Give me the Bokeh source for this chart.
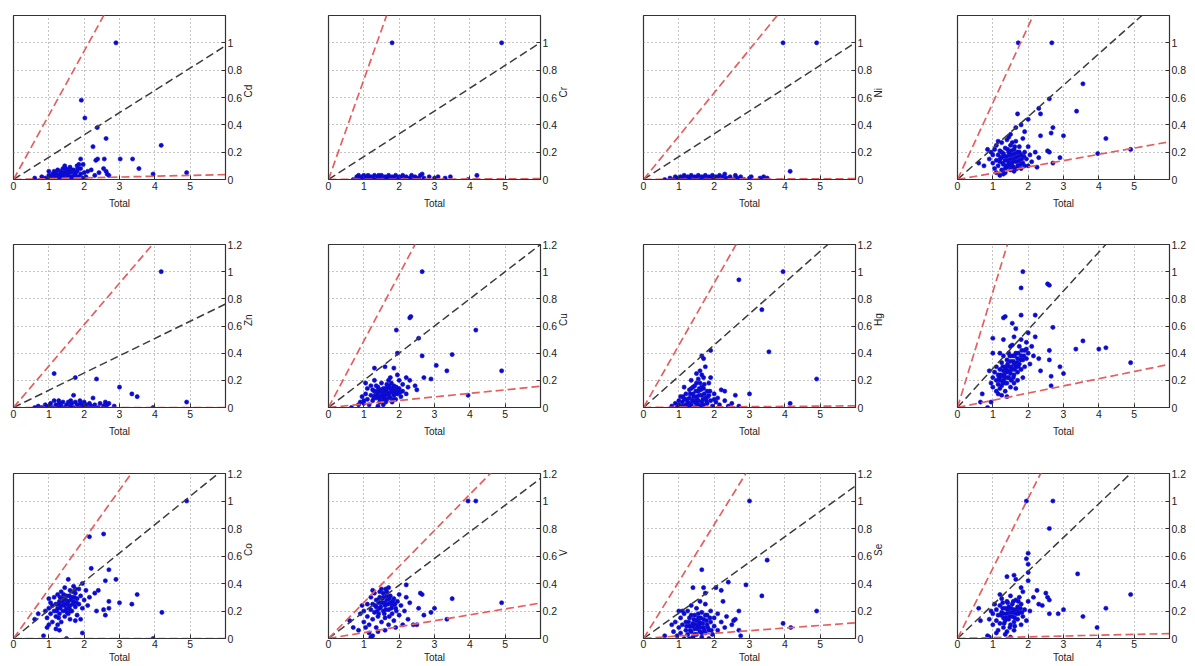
import math
from bokeh.plotting import figure
from bokeh.layouts import column, row
from bokeh.models import FixedTicker, Range1d
from bokeh.embed import file_html
from bokeh.resources import INLINE

# ---------------- data ----------------
panel_labels = ["Cd", "Cr", "Ni", "", "Zn", "Cu", "Hg", "", "Co", "V", "Se", ""]

x_ticks = [0, 1, 2, 3, 4, 5]
x_tick_labels = ["0", "1", "2", "3", "4", "5"]
y_ticks = [0, 0.2, 0.4, 0.6, 0.8, 1.0, 1.2]
y_tick_labels = ["0", "0.2", "0.4", "0.6", "0.8", "1", "1.2"]

# slopes of the reference lines: black (middle), red upper, red lower
black_slope = [0.163, 0.167, 0.167, 0.23, 0.127, 0.2, 0.23, 0.286, 0.207, 0.194, 0.185, 0.245]
red_hi_slope = [0.47, 0.73, 0.317, 0.56, 0.305, 0.49, 0.458, 0.85, 0.36, 0.262, 0.414, 0.51]
red_lo_slope = [0.006, 0.001, 0.001, 0.046, 0.0, 0.026, 0.002, 0.053, 0.0, 0.043, 0.019, 0.006]

cd_pts = [(2.9,1.0),(1.92,0.58),(2.02,0.45),(2.37,0.38),(2.62,0.3),(2.25,0.24),(4.18,0.25),(2.33,0.14),
 (2.38,0.15),(2.57,0.15),(3.02,0.15),(3.37,0.15),(1.9,0.15),(1.97,0.11),(3.55,0.08),(2.55,0.08),(2.62,0.06),
 (2.65,0.04),(2.7,0.03),(3.95,0.04),(4.9,0.05),(2.42,0.05),(2.2,0.07),(2.1,0.06),(2.3,0.03),(2.05,0.02),
 (0.6,0.01),(0.8,0.02),(0.9,0.01),(1.0,0.03),(1.0,0.06),(1.05,0.01),(1.1,0.04),(1.15,0.02),(1.2,0.05),(1.2,0.01),
 (1.25,0.07),(1.3,0.03),(1.3,0.0),(1.35,0.05),(1.4,0.02),(1.4,0.08),(1.45,0.04),(1.5,0.01),(1.5,0.06),(1.55,0.03),
 (1.6,0.09),(1.6,0.05),(1.65,0.02),(1.7,0.07),(1.7,0.01),(1.75,0.04),(1.8,0.1),(1.8,0.06),(1.85,0.02),(1.9,0.08),
 (1.9,0.04),(1.95,0.01),(2.0,0.05),(1.15,0.06),(1.35,0.01),(1.55,0.07),(1.75,0.0),(1.25,0.03),(1.45,0.1),
 (1.65,0.06),(1.85,0.11),(0.95,0.0),(1.1,0.0),
 (1.12,0.03),(1.22,0.03),(1.32,0.06),(1.42,0.05),(1.52,0.04),(1.62,0.07),(1.72,0.04),(1.82,0.08),(1.38,0.03),
 (1.58,0.01),(1.78,0.02),(1.48,0.08)]

cr_pts = [(1.8,1.0),(4.9,1.0),(0.7,0.0),(0.8,0.02),(0.85,0.03),(0.9,0.01),(0.95,0.02),(1.0,0.0),(1.0,0.03),
 (1.05,0.01),(1.1,0.02),(1.15,0.0),(1.2,0.02),(1.25,0.01),(1.3,0.03),(1.35,0.0),(1.4,0.02),(1.45,0.01),(1.5,0.03),
 (1.55,0.0),(1.6,0.02),(1.65,0.01),(1.7,0.03),(1.75,0.0),(1.8,0.02),(1.85,0.01),(1.9,0.03),(1.95,0.0),(2.0,0.02),
 (2.05,0.01),(2.1,0.03),(2.15,0.0),(2.2,0.02),(2.3,0.01),(2.35,0.03),(2.4,0.0),(2.45,0.02),(2.55,0.01),(2.6,0.03),
 (2.65,0.04),(2.7,0.01),(2.85,0.02),(3.0,0.01),(3.1,0.02),(3.3,0.01),(3.45,0.02),(3.95,0.0),(4.2,0.03),
 (1.12,0.03),(1.42,0.03),(1.72,0.01),(2.25,0.0)]

ni_pts = [(3.95,1.0),(4.9,1.0),(4.15,0.06),(0.6,0.0),(0.75,0.01),(0.85,0.0),(0.9,0.02),(0.95,0.01),(1.0,0.0),
 (1.05,0.02),(1.1,0.01),(1.15,0.03),(1.2,0.0),(1.25,0.02),(1.3,0.01),(1.35,0.03),(1.4,0.0),(1.45,0.02),(1.5,0.01),
 (1.55,0.03),(1.6,0.0),(1.65,0.02),(1.7,0.01),(1.75,0.03),(1.8,0.0),(1.85,0.02),(1.9,0.01),(1.95,0.03),(2.0,0.0),
 (2.05,0.02),(2.1,0.01),(2.15,0.03),(2.2,0.0),(2.25,0.02),(2.3,0.04),(2.35,0.01),(2.45,0.02),(2.55,0.0),(2.6,0.03),
 (2.65,0.01),(2.75,0.02),(2.85,0.0),(3.0,0.01),(3.05,0.02),(3.3,0.01),(3.4,0.02),(3.5,0.01)]

p4_pts = [(1.72,1.0),(2.67,1.0),(3.55,0.7),(2.6,0.59),(3.37,0.5),(2.3,0.52),(1.7,0.48),(2.35,0.48),(2.0,0.44),
 (1.8,0.4),(2.7,0.38),(2.65,0.34),(3.0,0.32),(4.2,0.3),(2.35,0.32),(1.5,0.33),(4.9,0.22),(3.97,0.19),(2.9,0.16),
 (2.7,0.12),(2.55,0.21),(2.6,0.2),(0.6,0.12),(0.75,0.1),(0.85,0.22),(1.9,0.35),(1.65,0.38),
 (0.9,0.15),(0.95,0.2),(1.0,0.12),(1.0,0.18),(1.05,0.08),(1.05,0.22),(1.1,0.05),(1.1,0.14),(1.1,0.25),(1.15,0.1),
 (1.15,0.18),(1.2,0.03),(1.2,0.13),(1.2,0.21),(1.25,0.07),(1.25,0.16),(1.25,0.27),(1.3,0.11),(1.3,0.19),(1.35,0.05),
 (1.35,0.14),(1.35,0.23),(1.4,0.09),(1.4,0.17),(1.4,0.29),(1.45,0.12),(1.45,0.2),(1.5,0.07),(1.5,0.15),(1.5,0.25),
 (1.55,0.1),(1.55,0.18),(1.6,0.13),(1.6,0.22),(1.6,0.06),(1.65,0.16),(1.65,0.28),(1.7,0.1),(1.7,0.2),(1.75,0.14),
 (1.75,0.24),(1.8,0.08),(1.8,0.18),(1.85,0.12),(1.85,0.3),(1.9,0.2),(1.9,0.1),(1.95,0.15),(2.0,0.24),(2.0,0.1),
 (2.05,0.18),(2.1,0.13),(2.2,0.2),(2.3,0.16),(2.25,0.09),(1.3,0.04),(1.45,0.31),(1.55,0.27),(1.15,0.28),
 (1.22,0.16),(1.28,0.12),(1.32,0.17),(1.38,0.1),(1.42,0.14),(1.48,0.18),(1.52,0.12),(1.58,0.15),(1.62,0.19),
 (1.68,0.13),(1.72,0.17),(1.78,0.11),(1.82,0.15),(1.88,0.17),(1.18,0.14),(1.42,0.22),(1.52,0.21),(1.68,0.08),
 (1.35,0.08),(1.58,0.09),(1.75,0.2),(1.25,0.2),(1.48,0.1),(1.62,0.24)]

zn_pts = [(4.18,1.0),(1.15,0.25),(1.75,0.22),(2.35,0.21),(3.0,0.15),(3.35,0.1),(3.5,0.08),(1.7,0.09),(2.25,0.07),
 (4.9,0.04),(3.95,0.0),(2.6,0.04),(2.65,0.02),(2.85,0.01),(1.15,0.05),(0.6,0.0),(0.7,0.01),(0.8,0.0),(0.9,0.02),
 (0.95,0.0),(1.0,0.01),(1.05,0.03),(1.1,0.0),(1.2,0.02),(1.25,0.0),(1.3,0.03),(1.35,0.01),(1.4,0.04),(1.45,0.0),
 (1.5,0.02),(1.55,0.04),(1.6,0.01),(1.65,0.03),(1.7,0.0),(1.75,0.04),(1.8,0.02),(1.85,0.0),(1.9,0.03),(1.95,0.01),
 (2.0,0.04),(2.05,0.02),(2.1,0.0),(2.15,0.03),(2.2,0.01),(2.3,0.02),(2.4,0.0),(2.45,0.03),(2.55,0.01),(2.6,0.02),
 (2.7,0.03),(1.28,0.05),(1.62,0.05),(1.88,0.05)]

cu_pts = [(2.65,1.0),(2.3,0.66),(2.33,0.67),(1.92,0.57),(4.17,0.57),(2.55,0.51),(1.95,0.4),(2.65,0.38),(3.5,0.39),
 (3.05,0.31),(3.35,0.27),(4.9,0.27),(1.3,0.29),(1.6,0.3),(1.85,0.29),(2.7,0.22),(2.9,0.21),(2.2,0.22),(2.3,0.2),
 (2.45,0.16),(2.5,0.13),(3.95,0.09),(0.65,0.0),(0.85,0.02),(1.0,0.05),
 (0.9,0.04),(0.95,0.08),(1.0,0.03),(1.05,0.1),(1.1,0.06),(1.1,0.14),(1.15,0.02),(1.2,0.09),(1.2,0.16),(1.25,0.05),
 (1.3,0.12),(1.3,0.2),(1.35,0.07),(1.4,0.1),(1.4,0.15),(1.45,0.04),(1.45,0.12),(1.5,0.08),(1.5,0.18),(1.55,0.11),
 (1.55,0.05),(1.6,0.14),(1.6,0.09),(1.65,0.06),(1.65,0.12),(1.7,0.1),(1.7,0.2),(1.75,0.07),(1.75,0.14),(1.8,0.11),
 (1.8,0.04),(1.85,0.16),(1.85,0.09),(1.9,0.12),(1.9,0.06),(1.95,0.1),(2.0,0.14),(2.0,0.2),(2.05,0.08),(2.1,0.17),
 (2.1,0.12),(2.2,0.1),(2.25,0.15),(1.35,0.16),(1.25,0.13),(1.55,0.02),(1.75,0.22),(1.05,0.18),(1.95,0.24),
 (1.4,0.01),(1.65,0.17),
 (1.42,0.08),(1.48,0.13),(1.52,0.1),(1.58,0.07),(1.62,0.12),(1.68,0.15),(1.72,0.08),(1.78,0.12),(1.82,0.14),
 (1.88,0.1),(1.92,0.15),(1.98,0.12),(1.38,0.12),(1.32,0.09),(1.62,0.04),(1.72,0.16),(1.55,0.14),(1.85,0.06),
 (2.02,0.11),(1.45,0.06),(1.28,0.07),(1.68,0.1),(1.78,0.18)]

hg_pts = [(3.95,1.0),(2.7,0.94),(3.35,0.72),(1.9,0.42),(3.55,0.41),(1.65,0.38),(1.7,0.36),(4.9,0.21),(3.0,0.1),
 (2.6,0.09),(4.15,0.03),(2.2,0.13),(1.9,0.22),(2.3,0.12),(2.0,0.06),(2.7,0.01),(2.5,0.03),
 (0.8,0.01),(0.9,0.03),(0.95,0.0),(1.0,0.05),(1.0,0.02),(1.05,0.08),(1.1,0.01),(1.1,0.04),(1.15,0.15),(1.15,0.06),
 (1.2,0.02),(1.2,0.1),(1.25,0.04),(1.25,0.0),(1.3,0.07),(1.3,0.13),(1.35,0.02),(1.35,0.2),(1.4,0.05),(1.4,0.1),
 (1.45,0.0),(1.45,0.16),(1.5,0.03),(1.5,0.08),(1.5,0.25),(1.55,0.12),(1.55,0.05),(1.6,0.01),(1.6,0.18),(1.6,0.27),
 (1.65,0.09),(1.65,0.04),(1.7,0.14),(1.7,0.22),(1.7,0.02),(1.75,0.07),(1.75,0.3),(1.8,0.12),(1.8,0.03),(1.85,0.09),
 (1.85,0.18),(1.9,0.05),(1.95,0.01),(2.0,0.1),(2.05,0.04),(2.1,0.07),(2.15,0.02),(2.3,0.05),(2.4,0.01),(1.3,0.0),
 (1.55,0.21),(1.65,0.24),(1.4,0.15),
 (1.22,0.06),(1.28,0.03),(1.32,0.1),(1.38,0.05),(1.42,0.08),(1.48,0.12),(1.52,0.06),(1.58,0.09),(1.62,0.13),
 (1.68,0.06),(1.72,0.1),(1.78,0.05),(1.82,0.08),(1.45,0.04),(1.55,0.02),(1.65,0.15),(1.35,0.14),(1.5,0.18),
 (1.58,0.14),(1.72,0.17),(1.12,0.08),(1.88,0.12)]

p8_pts = [(1.85,1.0),(1.8,0.88),(2.55,0.91),(2.6,0.9),(1.3,0.66),(1.35,0.67),(1.8,0.68),(2.2,0.68),(1.0,0.51),
 (1.55,0.62),(1.65,0.58),(2.7,0.59),(3.55,0.49),(3.35,0.43),(4.0,0.43),(4.2,0.44),(4.9,0.33),(2.9,0.3),(3.0,0.25),
 (2.65,0.23),(2.65,0.16),(2.6,0.42),(2.6,0.35),(2.3,0.36),(2.35,0.27),(0.9,0.27),(0.7,0.1),(0.65,0.04),(0.85,0.0),
 (0.95,0.04),(2.2,0.52),(2.0,0.55),(1.95,0.43),
 (0.95,0.18),(1.0,0.22),(1.0,0.15),(1.05,0.26),(1.1,0.2),(1.1,0.12),(1.1,0.3),(1.15,0.24),(1.15,0.17),(1.2,0.28),
 (1.2,0.2),(1.2,0.14),(1.25,0.33),(1.25,0.23),(1.25,0.16),(1.3,0.27),(1.3,0.2),(1.3,0.38),(1.35,0.3),(1.35,0.22),
 (1.35,0.12),(1.4,0.35),(1.4,0.26),(1.4,0.18),(1.45,0.4),(1.45,0.3),(1.45,0.22),(1.5,0.34),(1.5,0.25),(1.5,0.15),
 (1.55,0.38),(1.55,0.28),(1.55,0.46),(1.6,0.32),(1.6,0.24),(1.6,0.18),(1.65,0.4),(1.65,0.3),(1.7,0.36),(1.7,0.26),
 (1.7,0.2),(1.75,0.45),(1.75,0.32),(1.8,0.38),(1.8,0.28),(1.8,0.5),(1.85,0.35),(1.85,0.22),(1.9,0.42),(1.9,0.3),
 (1.95,0.48),(1.95,0.36),(2.0,0.4),(2.05,0.32),(2.1,0.45),(2.15,0.38),(1.2,0.4),(1.3,0.5),(1.5,0.45),(1.0,0.4),
 (1.15,0.1),(1.4,0.08),(1.65,0.14),(1.6,0.52),(1.25,0.09),
 (1.22,0.24),(1.28,0.3),(1.32,0.24),(1.38,0.28),(1.42,0.32),(1.48,0.27),(1.52,0.3),(1.58,0.34),(1.62,0.28),
 (1.68,0.33),(1.72,0.3),(1.78,0.35),(1.82,0.42),(1.42,0.22),(1.52,0.2),(1.62,0.38),(1.35,0.18),(1.18,0.22),
 (1.28,0.18),(1.58,0.22),(1.72,0.4),(1.48,0.38),(1.88,0.38)]

co_pts = [(4.9,1.0),(2.15,0.74),(2.55,0.76),(2.2,0.51),(2.7,0.5),(2.9,0.43),(2.6,0.42),(1.55,0.43),(3.5,0.32),
 (3.35,0.25),(3.0,0.26),(4.2,0.19),(3.95,0.0),(2.35,0.2),(2.6,0.17),(2.55,0.21),(2.7,0.27),(2.7,0.22),(0.85,0.02),
 (0.95,0.08),(1.3,0.06),(1.5,0.0),(1.95,0.04),(0.6,0.14),(0.7,0.18),(1.0,0.29),(2.4,0.35),(2.3,0.33),
 (0.9,0.2),(0.95,0.15),(1.0,0.22),(1.05,0.18),(1.05,0.26),(1.1,0.12),(1.1,0.24),(1.15,0.2),(1.15,0.3),(1.2,0.16),
 (1.2,0.25),(1.25,0.22),(1.25,0.32),(1.3,0.18),(1.3,0.27),(1.35,0.24),(1.35,0.12),(1.35,0.34),(1.4,0.2),(1.4,0.29),
 (1.45,0.25),(1.45,0.16),(1.45,0.37),(1.5,0.22),(1.5,0.31),(1.55,0.27),(1.55,0.18),(1.6,0.24),(1.6,0.35),(1.65,0.3),
 (1.65,0.2),(1.7,0.27),(1.7,0.38),(1.75,0.23),(1.75,0.33),(1.8,0.29),(1.8,0.17),(1.85,0.36),(1.85,0.25),(1.9,0.31),
 (1.95,0.22),(1.95,0.4),(2.0,0.28),(2.05,0.35),(2.1,0.24),(2.15,0.3),(1.2,0.07),(1.25,0.1),(1.0,0.1),(1.6,0.14),
 (1.75,0.13),(1.9,0.14),
 (1.22,0.2),(1.28,0.25),(1.32,0.22),(1.38,0.27),(1.42,0.24),(1.48,0.28),(1.52,0.25),(1.58,0.22),(1.62,0.28),
 (1.68,0.25),(1.72,0.3),(1.78,0.26),(1.42,0.32),(1.58,0.31),(1.32,0.3),(1.52,0.19),(1.68,0.34),(1.28,0.15),
 (1.48,0.2),(1.62,0.2),(1.75,0.36)]

v_pts = [(3.95,1.0),(4.17,1.0),(3.5,0.29),(4.9,0.26),(3.35,0.14),(3.0,0.22),(2.9,0.19),(2.7,0.17),(2.65,0.32),
 (2.6,0.33),(2.55,0.22),(2.2,0.39),(2.5,0.1),(2.3,0.26),(0.6,0.13),(0.7,0.08),(0.85,0.06),(1.25,0.02),(1.2,0.01),
 (2.4,0.1),
 (0.9,0.18),(0.95,0.24),(1.0,0.12),(1.0,0.2),(1.05,0.08),(1.1,0.16),(1.1,0.25),(1.15,0.1),(1.2,0.21),(1.2,0.3),
 (1.25,0.14),(1.25,0.25),(1.3,0.19),(1.3,0.33),(1.35,0.23),(1.35,0.08),(1.4,0.28),(1.4,0.16),(1.45,0.34),(1.45,0.22),
 (1.5,0.26),(1.5,0.12),(1.5,0.36),(1.55,0.2),(1.55,0.3),(1.6,0.24),(1.6,0.15),(1.65,0.28),(1.65,0.34),(1.7,0.21),
 (1.7,0.1),(1.75,0.26),(1.75,0.31),(1.8,0.18),(1.8,0.24),(1.85,0.29),(1.85,0.13),(1.9,0.22),(1.95,0.27),(2.0,0.17),
 (2.0,0.32),(2.05,0.24),(2.1,0.1),(2.15,0.2),(2.2,0.3),(1.15,0.04),(1.4,0.05),(1.6,0.06),(1.9,0.08),(2.25,0.14),
 (1.25,0.35),(1.7,0.37),
 (1.32,0.24),(1.38,0.2),(1.42,0.26),(1.48,0.23),(1.52,0.29),(1.58,0.26),(1.62,0.21),(1.68,0.25),(1.72,0.29),
 (1.78,0.22),(1.82,0.27),(1.88,0.25),(1.45,0.3),(1.55,0.33),(1.65,0.31),(1.42,0.18),(1.58,0.18),(1.72,0.16),
 (1.35,0.28),(1.92,0.2),(1.62,0.36)]

se_pts = [(3.0,1.0),(3.5,0.57),(1.65,0.5),(2.4,0.41),(2.9,0.39),(1.4,0.37),(1.7,0.37),(1.75,0.33),(2.05,0.37),
 (2.2,0.35),(3.35,0.31),(2.25,0.27),(4.9,0.2),(3.95,0.11),(4.17,0.08),(2.7,0.2),(2.7,0.06),(2.75,0.02),(2.6,0.14),
 (0.6,0.02),(1.0,0.2),(0.8,0.1),(1.1,0.2),
 (0.85,0.05),(0.9,0.12),(0.95,0.02),(1.0,0.08),(1.05,0.15),(1.05,0.04),(1.1,0.1),(1.15,0.0),(1.15,0.18),(1.2,0.06),
 (1.2,0.12),(1.25,0.03),(1.25,0.2),(1.3,0.09),(1.3,0.15),(1.35,0.05),(1.35,0.24),(1.4,0.11),(1.4,0.01),(1.45,0.07),
 (1.45,0.17),(1.5,0.13),(1.5,0.03),(1.5,0.22),(1.55,0.09),(1.55,0.15),(1.6,0.05),(1.6,0.11),(1.65,0.19),(1.65,0.01),
 (1.7,0.08),(1.7,0.14),(1.75,0.04),(1.75,0.25),(1.8,0.1),(1.8,0.17),(1.85,0.06),(1.9,0.12),(1.9,0.2),(1.95,0.03),
 (2.0,0.09),(2.0,0.15),(2.1,0.06),(2.1,0.18),(2.2,0.12),(2.3,0.08),(2.35,0.16),(2.5,0.1),(2.55,0.13),(1.6,0.27),
 (1.3,0.0),(1.85,0.0),
 (1.22,0.09),(1.28,0.12),(1.32,0.06),(1.38,0.09),(1.42,0.14),(1.48,0.1),(1.52,0.07),(1.58,0.12),(1.62,0.08),
 (1.68,0.11),(1.72,0.06),(1.78,0.13),(1.82,0.08),(1.88,0.15),(1.45,0.03),(1.65,0.04),(1.55,0.18),(1.75,0.17),
 (1.35,0.17),(1.92,0.06),(1.62,0.15)]

p12_pts = [(1.95,1.0),(2.7,1.0),(2.6,0.8),(1.95,0.58),(2.0,0.62),(2.0,0.54),(2.0,0.48),(1.4,0.45),(1.6,0.46),
 (1.65,0.43),(3.4,0.47),(4.9,0.32),(2.0,0.42),(2.5,0.33),(2.55,0.3),(2.6,0.28),(2.6,0.18),(2.85,0.18),(3.0,0.21),
 (3.55,0.16),(4.2,0.22),(3.95,0.08),(0.6,0.22),(0.65,0.13),(0.85,0.02),(0.9,0.01),(1.5,0.01),(1.8,0.37),(2.25,0.35),
 (2.3,0.25),(2.4,0.24),
 (0.9,0.14),(0.95,0.2),(1.0,0.1),(1.0,0.18),(1.05,0.25),(1.1,0.13),(1.1,0.21),(1.15,0.06),(1.15,0.17),(1.2,0.24),
 (1.2,0.11),(1.25,0.19),(1.25,0.29),(1.3,0.15),(1.3,0.08),(1.35,0.22),(1.35,0.13),(1.4,0.27),(1.4,0.18),(1.4,0.05),
 (1.45,0.14),(1.45,0.23),(1.5,0.19),(1.5,0.1),(1.5,0.31),(1.55,0.16),(1.55,0.25),(1.6,0.21),(1.6,0.12),(1.65,0.28),
 (1.65,0.18),(1.7,0.14),(1.7,0.23),(1.75,0.3),(1.75,0.19),(1.8,0.1),(1.8,0.25),(1.85,0.16),(1.85,0.34),(1.9,0.21),
 (1.95,0.13),(2.0,0.27),(1.2,0.32),(1.1,0.04),(1.6,0.06),(2.05,0.2),(2.15,0.3),(1.35,0.03),
 (1.22,0.17),(1.28,0.22),(1.32,0.18),(1.38,0.15),(1.42,0.21),(1.48,0.16),(1.52,0.22),(1.58,0.19),(1.62,0.15),
 (1.68,0.21),(1.72,0.18),(1.78,0.22),(1.42,0.26),(1.58,0.27),(1.32,0.11),(1.48,0.08),(1.62,0.09),(1.72,0.27),
 (1.28,0.26),(1.82,0.19)]

panel_points = [cd_pts, cr_pts, ni_pts, p4_pts, zn_pts, cu_pts, hg_pts, p8_pts, co_pts, v_pts, se_pts, p12_pts]
x_extent = [0, 6]

# ---------------- styling ----------------
FONT = "Liberation Sans"
TXT = "#222222"
DOT = "#0b0bd0"
RED = "#e26060"
BLK = "#3c3c3c"

FRAME_W = 212
COL_LEFT = [13, 8, 8, 7]
COL_RIGHT = [95, 95, 95, 23]
ROW_TOP = [15, 33, 34]
ROW_FRAME_H = [165, 164, 165]
ROW_BOTTOM = [31, 31, 27]


def make_panel(i):
    r, c = divmod(i, 4)
    left, right = COL_LEFT[c], COL_RIGHT[c]
    top, fh, bottom = ROW_TOP[r], ROW_FRAME_H[r], ROW_BOTTOM[r]
    p = figure(width=left + FRAME_W + right, height=top + fh + bottom,
               x_range=Range1d(0, 6), y_range=Range1d(0, 1.2),
               output_backend="svg", toolbar_location=None,
               y_axis_location="right",
               min_border_left=left, min_border_right=right,
               min_border_top=top, min_border_bottom=bottom)
    p.background_fill_color = "white"
    p.border_fill_color = "white"
    p.outline_line_color = "#333333"
    p.outline_line_width = 1.2

    yt = y_ticks if r > 0 else y_ticks[:-1]
    ytl = y_tick_labels if r > 0 else y_tick_labels[:-1]
    xt = FixedTicker(ticks=x_ticks)
    ytk = FixedTicker(ticks=yt)
    p.xaxis.ticker = xt
    p.yaxis.ticker = ytk
    p.xgrid.ticker = xt
    p.ygrid.ticker = ytk
    p.xaxis.major_label_overrides = {t: l for t, l in zip(x_ticks, x_tick_labels)}
    p.yaxis.major_label_overrides = {t: l for t, l in zip(yt, ytl)}

    for ax in (p.xaxis, p.yaxis):
        ax.major_tick_in = 4
        ax.major_tick_out = 0
        ax.minor_tick_line_color = None
        ax.axis_line_color = "#333333"
        ax.major_tick_line_color = "#333333"
        ax.major_label_text_font = FONT
        ax.major_label_text_font_size = "10.5px"
        ax.major_label_text_color = TXT
        ax.major_label_standoff = 2
        ax.axis_label_text_font = FONT
        ax.axis_label_text_font_size = "10px"
        ax.axis_label_text_font_style = "normal"
        ax.axis_label_text_color = TXT
    p.xaxis.axis_label_standoff = 5 if r < 2 else 1
    if r == 2:
        p.xaxis.major_label_standoff = 1
    p.yaxis.axis_label_standoff = 3

    p.xaxis.axis_label = "Total"
    if panel_labels[i]:
        p.yaxis.axis_label = panel_labels[i]
        try:
            p.yaxis.axis_label_orientation = math.pi / 2
        except Exception:
            pass

    for g in (p.xgrid, p.ygrid):
        g.grid_line_color = "#8a8a8a"
        g.grid_line_dash = "1 3"
        g.grid_line_width = 1

    pts = panel_points[i]
    xs = [q[0] for q in pts]
    ys = [q[1] for q in pts]
    p.scatter(xs, ys, size=4.2, marker="circle", fill_color=DOT, line_color=DOT, line_width=0.6)

    p.line(x_extent, [black_slope[i] * v for v in x_extent], line_color=BLK,
           line_width=1.5, line_dash="8 4")
    p.line(x_extent, [red_hi_slope[i] * v for v in x_extent], line_color=RED,
           line_width=1.7, line_dash="8 4")
    p.line(x_extent, [red_lo_slope[i] * v for v in x_extent], line_color=RED,
           line_width=1.7, line_dash="8 4")
    return p


panels = [make_panel(i) for i in range(12)]
layout = column(row(*panels[0:4]), row(*panels[4:8]), row(*panels[8:12]))

open("out.html", "w").write(file_html(layout, INLINE))
